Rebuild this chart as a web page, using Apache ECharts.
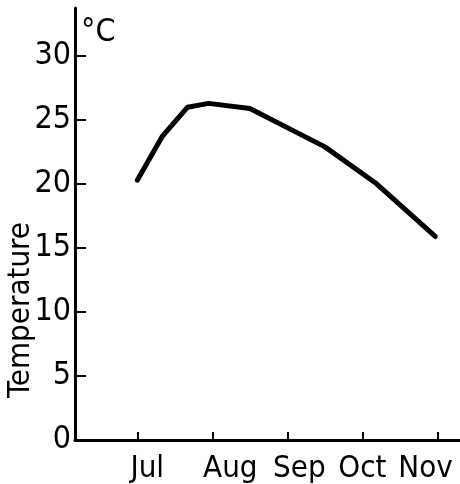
<!DOCTYPE html>
<html>
<head>
<meta charset="utf-8">
<style>
  html, body { margin: 0; padding: 0; background: #fff; overflow: hidden; }
  #chart { width: 460px; height: 484px; }
</style>
<script src="https://cdn.jsdelivr.net/npm/echarts@6/dist/echarts.min.js"></script>
</head>
<body>
<div id="chart"></div>
<script>
// Month positions (7 = Jul ... 11 = Nov) and the month labels drawn under them
const monthTicks = [7, 8, 9, 10, 11];
const monthLabels = ['Jul', 'Aug', 'Sep', 'Oct', 'Nov'];

// Observation times (fractional month) and temperature in °C
const times = [7.0, 7.33, 7.67, 7.95, 8.5, 9.5, 10.17, 10.97];
const temps = [20.3, 23.7, 26.0, 26.3, 25.9, 22.9, 20.1, 15.9];

// Temperature ticks
const tempTicks = [0, 5, 10, 15, 20, 25, 30];

const FONT = '"Liberation Sans Narrow", "DejaVu Sans Condensed", "Liberation Sans", sans-serif';

// Hand-set horizontal nudges (px) for the month labels, typed-lettering style
const labelNudge = [10, 18, 12, 0, -12];
const monthRich = {};
labelNudge.forEach((d, i) => {
  monthRich['m' + i] = {
    fontFamily: FONT, fontSize: 31, color: '#000',
    padding: d >= 0 ? [0, 0, 0, 2 * d] : [0, -2 * d, 0, 0]
  };
});

const chart = echarts.init(document.getElementById('chart'), null, { renderer: 'canvas', width: 460, height: 484 });

chart.setOption({
  animation: false,
  backgroundColor: '#fff',
  grid: { left: 75, right: 0, top: 8, bottom: 44, containLabel: false, outerBoundsMode: 'none' },
  xAxis: {
    type: 'value',
    min: 6.17,
    max: 11.3,
    axisLine: { show: true, lineStyle: { color: '#000', width: 3 } },
    axisTick: {
      show: true, inside: true, length: 8,
      customValues: monthTicks,
      lineStyle: { color: '#000', width: 2 }
    },
    axisLabel: {
      show: true,
      customValues: monthTicks,
      margin: 13,
      color: '#000',
      fontFamily: FONT,
      fontSize: 31,
      rich: monthRich,
      formatter: v => {
        const i = monthTicks.indexOf(Math.round(v));
        return i < 0 ? '' : '{m' + i + '|' + monthLabels[i] + '}';
      }
    },
    splitLine: { show: false }
  },
  yAxis: {
    type: 'value',
    min: 0,
    max: 33.75,
    interval: 5,
    axisLine: { show: true, lineStyle: { color: '#000', width: 3 } },
    axisTick: {
      show: true, inside: true, length: 11,
      customValues: tempTicks,
      lineStyle: { color: '#000', width: 2 }
    },
    axisLabel: {
      show: true,
      customValues: tempTicks,
      margin: 4,
      color: '#000',
      fontFamily: FONT,
      fontSize: 32
    },
    splitLine: { show: false }
  },
  graphic: [
    {
      type: 'text',
      left: 81, top: 17,
      style: { text: '°C', fill: '#000', font: '32px ' + FONT }
    },
    {
      type: 'text',
      x: 21, y: 310,
      rotation: Math.PI / 2,
      style: {
        text: 'Temperature', fill: '#000',
        font: '31px ' + FONT,
        align: 'center', verticalAlign: 'middle'
      }
    }
  ],
  series: [{
    type: 'line',
    data: times.map((t, i) => [t, temps[i]]),
    showSymbol: false,
    symbol: 'none',
    lineStyle: { color: '#000', width: 5, cap: 'round', join: 'round' }
  }]
});
</script>
</body>
</html>
